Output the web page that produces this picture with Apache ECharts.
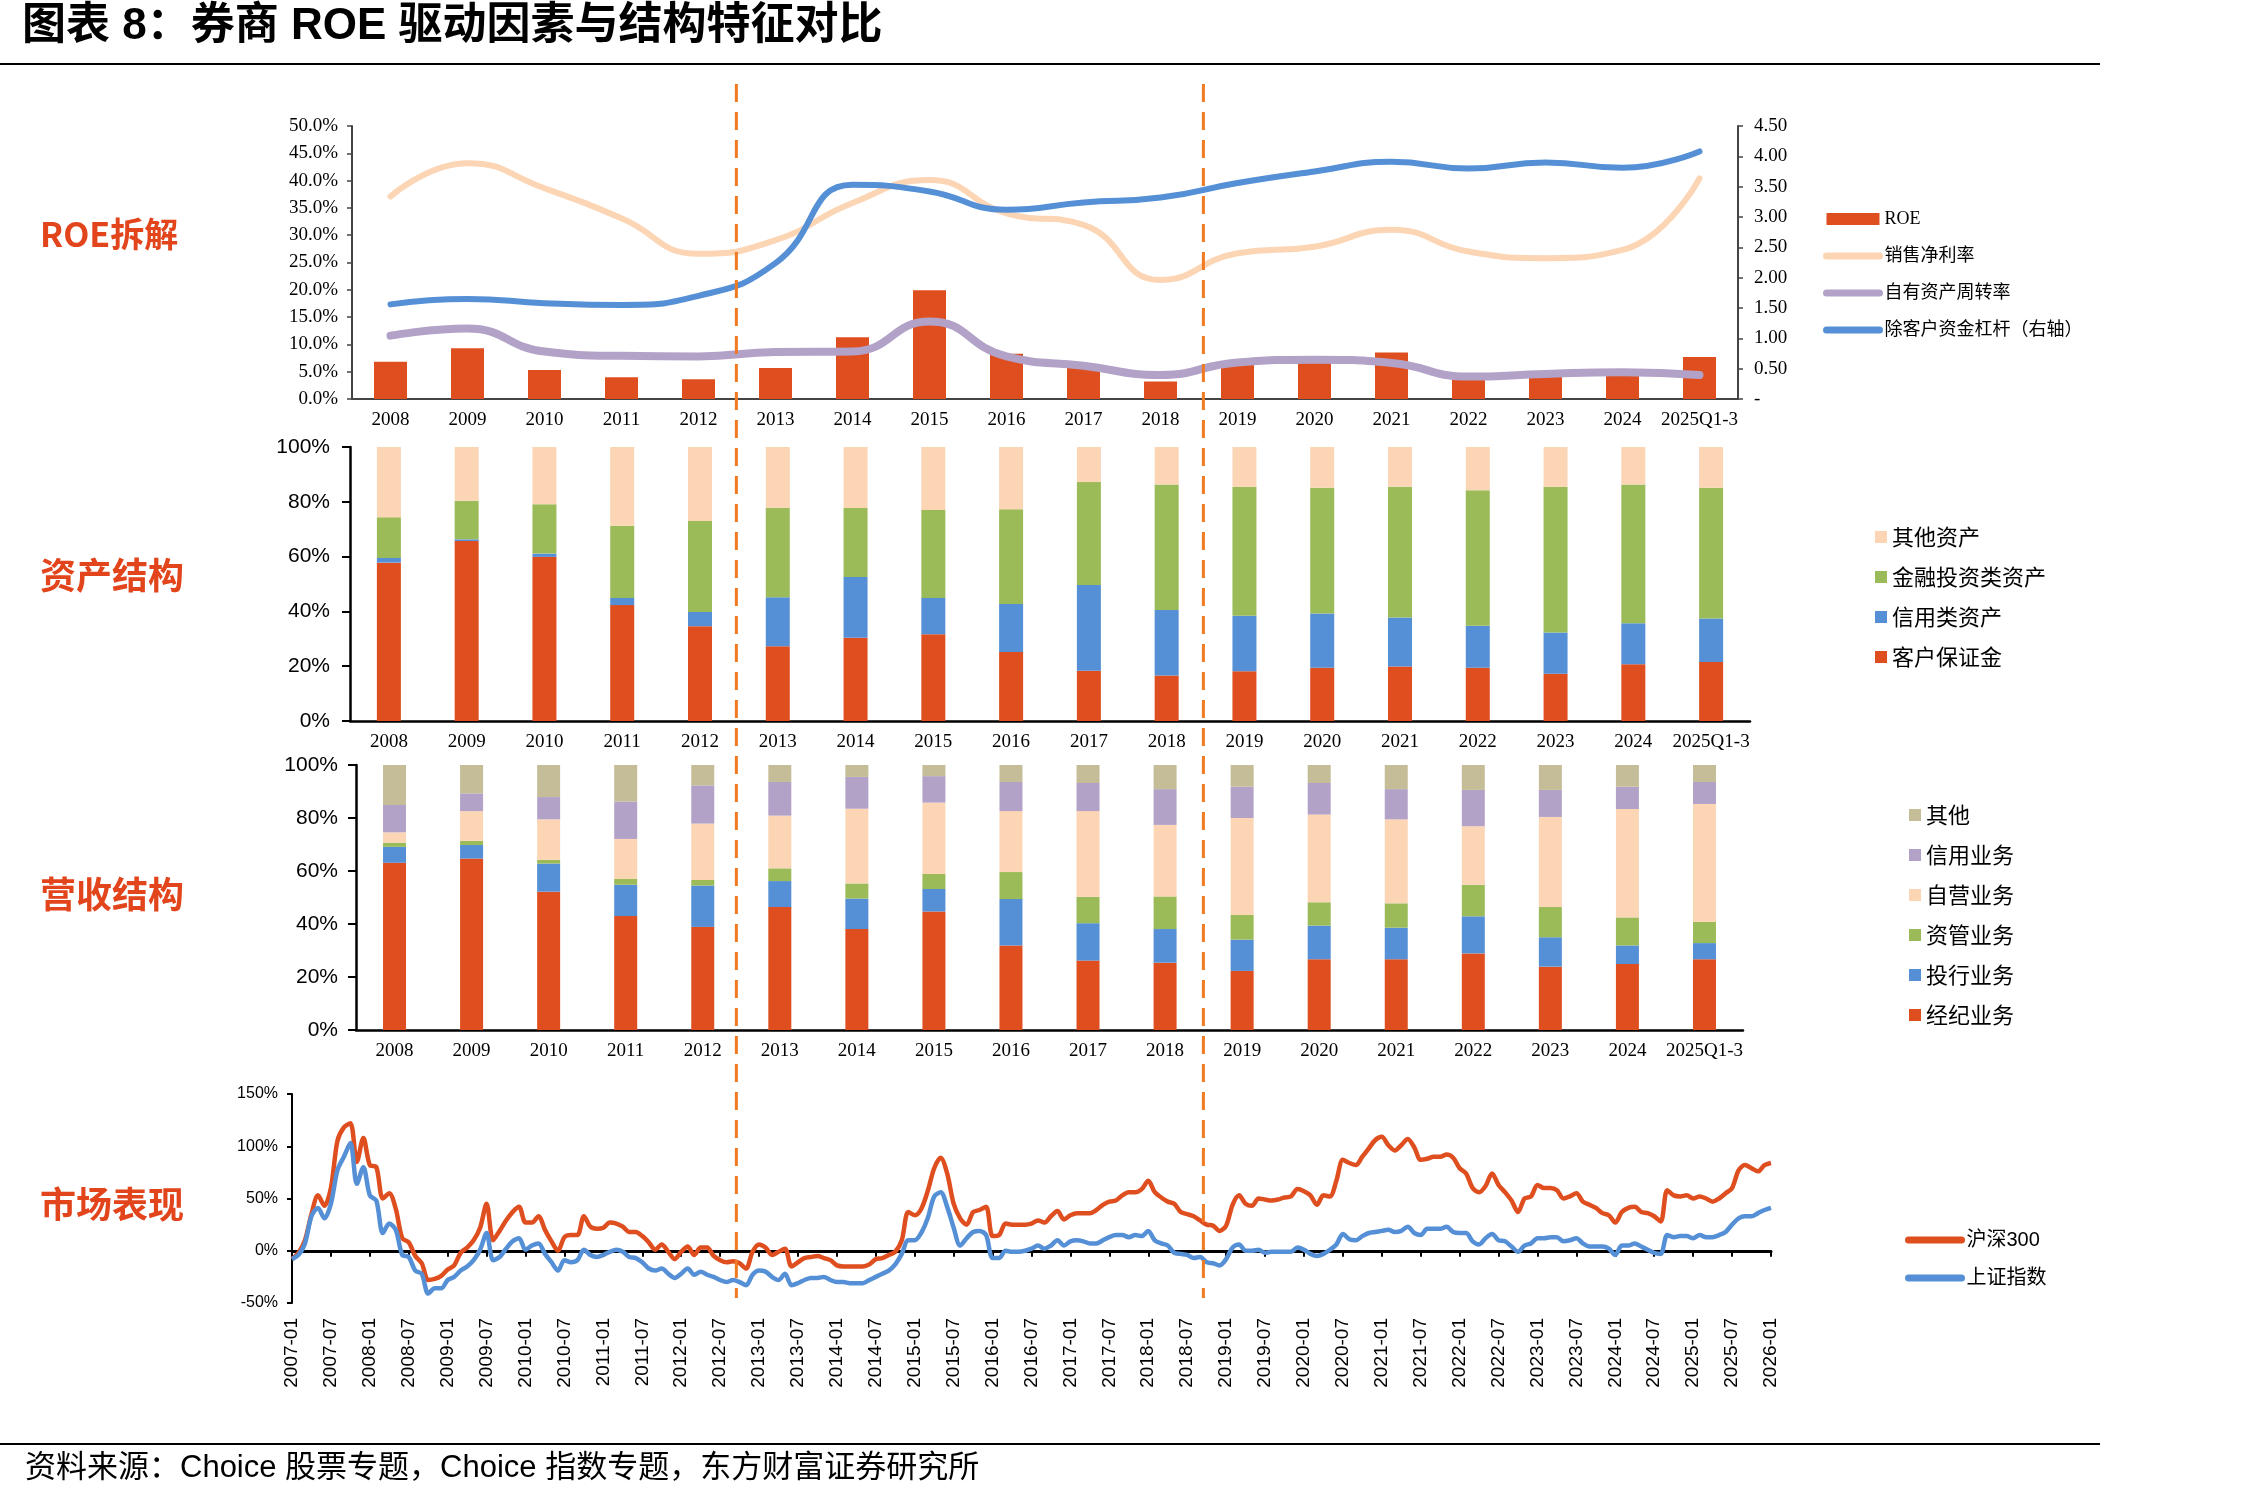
<!DOCTYPE html>
<html>
<head>
<meta charset="utf-8">
<script src="https://cdn.jsdelivr.net/npm/echarts@6/dist/echarts.min.js"></script>
<style>
  html, body { margin: 0; padding: 0; background: #fff; }
  #main { width: 2268px; height: 1499px; }
</style>
</head>
<body>
<div id="main"></div>
<script>
var years = ['2008','2009','2010','2011','2012','2013','2014','2015','2016','2017','2018','2019','2020','2021','2022','2023','2024','2025Q1-3'];

// ROE 拆解
var roe       = [6.8, 9.3, 5.3, 4.0, 3.6, 5.7, 11.3, 19.9, 8.3, 6.2, 3.2, 6.5, 7.0, 8.5, 3.9, 4.8, 5.0, 7.7];
var netMargin = [37.1, 43.2, 38.6, 33.1, 26.6, 29.1, 35.9, 40.1, 34.0, 31.9, 21.8, 26.7, 27.9, 31.0, 27.0, 25.8, 27.3, 40.4];
var turnover  = [11.6, 12.9, 8.7, 7.9, 7.8, 8.6, 8.7, 14.2, 7.8, 6.1, 4.4, 6.7, 7.2, 6.6, 4.1, 4.6, 4.9, 4.4];
var leverage  = [1.56, 1.65, 1.58, 1.55, 1.70, 2.24, 3.53, 3.42, 3.12, 3.24, 3.32, 3.56, 3.75, 3.91, 3.80, 3.90, 3.81, 4.08];

// 资产结构 (%)
var clientFunds  = [57.8, 65.7, 59.9, 42.3, 34.6, 27.3, 30.4, 31.7, 25.2, 18.3, 16.6, 18.2, 19.4, 19.9, 19.4, 17.2, 20.7, 21.5];
var creditAssets = [1.7, 0.6, 1.2, 2.6, 5.2, 17.9, 22.2, 13.2, 17.5, 31.3, 23.9, 20.2, 19.8, 17.9, 15.4, 15.1, 15.0, 15.9];
var investAssets = [14.9, 14.1, 18.0, 26.4, 33.2, 32.6, 25.1, 32.1, 34.6, 37.6, 45.8, 47.1, 45.9, 47.7, 49.4, 53.2, 50.6, 47.7];
var otherAssets  = [25.6, 19.6, 20.9, 28.7, 27.0, 22.2, 22.3, 23.0, 22.7, 12.8, 13.7, 14.5, 14.9, 14.5, 15.8, 14.5, 13.7, 14.9];

// 营收结构 (%)
var brokerage   = [63.1, 64.7, 52.2, 43.0, 38.9, 46.4, 38.1, 44.7, 31.9, 26.2, 25.4, 22.3, 26.7, 26.7, 28.9, 23.9, 24.9, 26.7];
var ibanking    = [6.0, 5.1, 10.6, 11.8, 15.6, 9.8, 11.5, 8.5, 17.5, 14.1, 12.7, 11.8, 12.7, 11.9, 14.0, 11.1, 7.0, 6.1];
var assetMgmt   = [1.6, 1.6, 1.4, 2.2, 2.1, 4.8, 5.7, 5.7, 10.2, 10.0, 12.3, 9.3, 8.8, 9.2, 11.9, 11.4, 10.6, 8.0];
var proprietary = [3.9, 11.2, 15.3, 15.1, 21.3, 19.9, 28.2, 26.9, 23.0, 32.3, 27.0, 36.6, 33.1, 31.7, 22.1, 34.0, 40.9, 44.5];
var creditBiz   = [10.3, 6.7, 8.4, 14.1, 14.4, 12.7, 12.0, 10.0, 11.0, 10.6, 13.5, 11.8, 11.9, 11.4, 13.7, 10.2, 8.4, 8.3];
var otherBiz    = [15.1, 10.7, 12.1, 13.8, 7.7, 6.4, 4.5, 4.2, 6.4, 6.8, 9.1, 8.2, 6.8, 9.1, 9.4, 9.4, 8.2, 6.4];

// 市场表现, monthly from 2007-01 to 2026-01 (%)
var hs300 = [
  -8, -2, 10, 35, 53, 43, 60, 105, 118, 122, 85, 108,
  82, 80, 50, 55, 40, 12, 8, -5, -12, -28, -27, -24,
  -18, -14, -2, 3, 10, 22, 45, 10, 19, 29, 37, 42,
  27, 27, 33, 20, 9, 0, 13, 15, 15, 33, 23, 21,
  22, 27, 26, 23, 18, 18, 14, 8, 1, 6, -1, -8,
  -1, 4, -4, 3, 3, -5, -9, -11, -10, -12, -17, -1,
  6, 3, -4, -1, 2, -15, -11, -7, -6, -5, -7, -9,
  -14, -15, -15, -15, -15, -13, -8, -7, -4, -1, 10, 37,
  34, 40, 57, 79, 89, 74, 45, 31, 25, 37, 39, 42,
  14, 15, 26, 25, 25, 25, 26, 29, 27, 33, 38, 30,
  34, 36, 36, 36, 39, 44, 47, 48, 53, 56, 56, 59,
  67, 56, 51, 47, 45, 37, 35, 33, 29, 25, 24, 19,
  24, 44, 53, 45, 43, 50, 49, 48, 49, 51, 52, 59,
  57, 53, 44, 53, 52, 67, 87, 84, 82, 90, 98, 106,
  109, 101, 96, 101, 107, 99, 87, 88, 90, 90, 92, 89,
  79, 74, 60, 56, 62, 74, 63, 56, 48, 37, 50, 52,
  63, 60, 60, 58, 50, 52, 55, 47, 44, 41, 36, 34,
  27, 37, 41, 42, 37, 36, 33, 28, 58, 53, 52, 53,
  50, 52, 50, 47, 50, 55, 60, 77, 82, 79, 76, 82,
  84
];
var sse = [
  -8, -4, 7, 33, 41, 31, 45, 77, 90, 103, 64, 80,
  53, 48, 17, 26, 20, -4, -6, -19, -22, -41, -36, -36,
  -28, -25, -19, -15, -9, 1, 17, -9, -6, 2, 9, 12,
  1, 5, 7, -3, -11, -19, -9, -11, -9, 1, -4, -6,
  -4, -1, 1, -1, -6, -7, -11, -17, -19, -17, -22, -26,
  -22, -17, -23, -20, -23, -25, -28, -30, -28, -30, -33, -23,
  -19, -20, -25, -28, -22, -33, -31, -28, -26, -26, -25, -28,
  -30, -30, -31, -31, -31, -28, -25, -22, -19, -13, -3, 10,
  10, 17, 31, 52, 56, 42, 22, 5, 12, 18, 19, 15,
  -7, -7, 0, -1, -1, 0, 2, 5, 2, 5, 10, 5,
  9, 10, 9, 7, 7, 10, 13, 15, 15, 13, 15, 14,
  19, 10, 7, 5, -2, -3, -4, -7, -6, -11, -12, -14,
  -8, 3, 6, 0, 0, 1, -2, -1, -1, -1, -1, 3,
  1, -3, -5, -3, 1, 6, 16, 11, 10, 14, 17, 18,
  19, 20, 18, 19, 23, 17, 15, 21, 21, 21, 23, 18,
  17, 17, 9, 6, 12, 16, 10, 9, 4, -1, 5, 7,
  12, 12, 13, 13, 9, 10, 12, 7, 4, 4, 4, 2,
  -4, 5, 5, 7, 4, 1, -2, -3, 15, 13, 14, 14,
  12, 15, 13, 13, 15, 18, 25, 31, 33, 33, 36, 39,
  41
];

var months = [];
for (var y = 2007; y <= 2026; y++) {
    for (var m = 1; m <= 12; m++) {
        months.push(y + '-' + (m < 10 ? '0' + m : m));
        if (y == 2026) break;
    }
}

var RED = '#DF4E1F', BLUE = '#5590D6', GREEN = '#9BBB59', PEACH = '#FCD5B5', LAV = '#B3A2C7', TAN = '#C4BD97';
var SERIF = '"Liberation Serif", "Noto Sans CJK SC"';
var SANS = '"Liberation Sans", "Noto Sans CJK SC"';
var CJK = '"Noto Sans CJK SC"';

var chart = echarts.init(document.getElementById('main'));

function catAxis(grid, lineW, lineColor) {
    return {
        type: 'category', gridIndex: grid, data: years,
        axisLine: {lineStyle: {color: lineColor, width: lineW}},
        axisTick: {length: 6, lineStyle: {color: lineColor, width: 1.5}},
        axisLabel: {interval: 0, margin: 12, color: '#000', fontFamily: SERIF, fontSize: 19}
    };
}

function pctAxis(grid, margin) {
    return {
        type: 'value', gridIndex: grid, min: 0, max: 100, interval: 20,
        splitLine: {show: false},
        axisLine: {show: true, lineStyle: {color: '#000', width: 2.5}},
        axisTick: {show: true, length: 8, lineStyle: {color: '#000', width: 2}},
        axisLabel: {margin: margin, color: '#000', fontFamily: SANS, fontSize: 21, formatter: '{value}%'}
    };
}

function stackBar(name, data, color, xi, yi, stack, w) {
    return {
        name: name, type: 'bar', stack: stack, data: data, xAxisIndex: xi, yAxisIndex: yi,
        barWidth: w, itemStyle: {color: color}
    };
}

function smoothLine(name, data, color, width, yi) {
    return {
        name: name, type: 'line', data: data, xAxisIndex: 0, yAxisIndex: yi,
        smooth: true, symbol: 'none', lineStyle: {color: color, width: width, cap: 'round'},
        itemStyle: {color: color}
    };
}

// line legend items: hide the dot ECharts puts in the middle
function lineItem(name) {
    return {name: name, itemStyle: {opacity: 0}};
}

var option = {
    animation: false,
    backgroundColor: '#fff',
    grid: [
        {left: 352, top: 126, width: 1386, height: 273},
        {left: 350, top: 447, width: 1400, height: 274},
        {left: 356, top: 765, width: 1387, height: 265},
        {left: 292, top: 1094, width: 1479, height: 209}
    ],
    xAxis: [
        catAxis(0, 2, '#444'),
        catAxis(1, 2.5, '#000'),
        catAxis(2, 2.5, '#000'),
        {
            type: 'category', gridIndex: 3, data: months, boundaryGap: false,
            axisLine: {show: false, onZero: false}, axisTick: {show: false},
            axisLabel: {
                rotate: 90, margin: 15, color: '#000', fontFamily: SANS, fontSize: 19,
                interval: function (i) { return i % 6 === 0; }
            }
        },
        {
            type: 'category', gridIndex: 3, data: months, boundaryGap: false, position: 'bottom',
            axisLine: {onZero: true, lineStyle: {color: '#000', width: 3}},
            axisTick: {length: 6, lineStyle: {color: '#000', width: 2}, interval: function (i) { return i % 6 === 0; }},
            axisLabel: {show: false}
        }
    ],
    yAxis: [
        {
            type: 'value', gridIndex: 0, min: 0, max: 50, interval: 5, splitLine: {show: false},
            axisLine: {show: true, lineStyle: {color: '#444', width: 2}},
            axisTick: {show: true, length: 5, lineStyle: {color: '#444', width: 1.5}},
            axisLabel: {margin: 14, color: '#000', fontFamily: SERIF, fontSize: 19,
                formatter: function (v) { return v.toFixed(1) + '%'; }}
        },
        {
            type: 'value', gridIndex: 0, position: 'right', min: 0, max: 4.5, interval: 0.5, splitLine: {show: false},
            axisLine: {show: true, lineStyle: {color: '#444', width: 2}},
            axisTick: {show: true, length: 5, lineStyle: {color: '#444', width: 1.5}},
            axisLabel: {margin: 16, color: '#000', fontFamily: SERIF, fontSize: 19,
                formatter: function (v) { return v === 0 ? '-' : v.toFixed(2); }}
        },
        pctAxis(1, 20),
        pctAxis(2, 18),
        {
            type: 'value', gridIndex: 3, min: -50, max: 150, interval: 50, splitLine: {show: false},
            axisLine: {show: true, lineStyle: {color: '#000', width: 2}},
            axisTick: {show: true, length: 5, lineStyle: {color: '#000', width: 2}},
            axisLabel: {margin: 14, color: '#000', fontFamily: SANS, fontSize: 16, formatter: '{value}%'}
        }
    ],
    legend: [
        {
            orient: 'vertical', left: 1818, top: 205, itemGap: 19, itemWidth: 53, itemHeight: 12,
            selectedMode: false, lineStyle: {width: 7, cap: 'round'},
            textStyle: {color: '#000', fontFamily: SERIF, fontSize: 18},
            data: [{name: 'ROE', icon: 'rect'}, lineItem('销售净利率'), lineItem('自有资产周转率'), lineItem('除客户资金杠杆（右轴）')]
        },
        {
            orient: 'vertical', left: 1870, top: 521, itemGap: 18, itemWidth: 12, itemHeight: 12,
            selectedMode: false, icon: 'rect',
            textStyle: {color: '#000', fontFamily: CJK, fontSize: 22},
            data: ['其他资产', '金融投资类资产', '信用类资产', '客户保证金']
        },
        {
            orient: 'vertical', left: 1904, top: 799, itemGap: 18, itemWidth: 12, itemHeight: 12,
            selectedMode: false, icon: 'rect',
            textStyle: {color: '#000', fontFamily: CJK, fontSize: 22},
            data: ['其他', '信用业务', '自营业务', '资管业务', '投行业务', '经纪业务']
        },
        {
            orient: 'vertical', left: 1900, top: 1225, itemGap: 18, itemWidth: 53, itemHeight: 12,
            selectedMode: false, lineStyle: {width: 7, cap: 'round'},
            textStyle: {color: '#000', fontFamily: SANS, fontSize: 20},
            data: [lineItem('沪深300'), lineItem('上证指数')]
        }
    ],
    series: [
        {name: 'ROE', type: 'bar', data: roe, xAxisIndex: 0, yAxisIndex: 0, barWidth: 33, itemStyle: {color: RED}},
        smoothLine('销售净利率', netMargin, PEACH, 6, 0),
        smoothLine('自有资产周转率', turnover, LAV, 8, 0),
        smoothLine('除客户资金杠杆（右轴）', leverage, BLUE, 6, 1),

        stackBar('客户保证金', clientFunds, RED, 1, 2, 'asset', 24),
        stackBar('信用类资产', creditAssets, BLUE, 1, 2, 'asset', 24),
        stackBar('金融投资类资产', investAssets, GREEN, 1, 2, 'asset', 24),
        stackBar('其他资产', otherAssets, PEACH, 1, 2, 'asset', 24),

        stackBar('经纪业务', brokerage, RED, 2, 3, 'rev', 23),
        stackBar('投行业务', ibanking, BLUE, 2, 3, 'rev', 23),
        stackBar('资管业务', assetMgmt, GREEN, 2, 3, 'rev', 23),
        stackBar('自营业务', proprietary, PEACH, 2, 3, 'rev', 23),
        stackBar('信用业务', creditBiz, LAV, 2, 3, 'rev', 23),
        stackBar('其他', otherBiz, TAN, 2, 3, 'rev', 23),

        {name: '沪深300', type: 'line', data: hs300, xAxisIndex: 3, yAxisIndex: 4, smooth: 0.3, symbol: 'none',
            lineStyle: {color: RED, width: 4.5}, itemStyle: {color: RED}},
        {name: '上证指数', type: 'line', data: sse, xAxisIndex: 3, yAxisIndex: 4, smooth: 0.3, symbol: 'none',
            lineStyle: {color: BLUE, width: 4.5}, itemStyle: {color: BLUE}}
    ]
};

chart.setOption(option);

function sideLabel(text, y, size) {
    return {type: 'text', x: 40, y: y, z: 10,
        style: {text: text, fill: '#E2451C', font: 'bold ' + size + 'px ' + CJK, verticalAlign: 'middle'}};
}

// separators sit between 2012-09/10 and 2018-09/10 on the market axis
function sepX(a, b) {
    return (chart.convertToPixel({xAxisIndex: 3}, a) + chart.convertToPixel({xAxisIndex: 3}, b)) / 2;
}
var seps = [sepX('2012-09', '2012-10'), sepX('2018-09', '2018-10')];

var elements = [
    {type: 'text', x: 22, y: 27, style: {text: '图表 8：券商 ROE 驱动因素与结构特征对比', fill: '#000',
        font: 'bold 44px ' + SANS, verticalAlign: 'middle'}},
    {type: 'line', shape: {x1: 0, y1: 64, x2: 2100, y2: 64}, style: {stroke: '#000', lineWidth: 2}},
    {type: 'line', shape: {x1: 0, y1: 1444, x2: 2100, y2: 1444}, style: {stroke: '#000', lineWidth: 2}},
    {type: 'text', x: 25, y: 1468, style: {text: '资料来源：Choice 股票专题，Choice 指数专题，东方财富证券研究所', fill: '#000',
        font: '31px ' + SANS, verticalAlign: 'middle'}},
    sideLabel('ROE拆解', 234, 34),
    sideLabel('资产结构', 575, 36),
    sideLabel('营收结构', 894, 36),
    sideLabel('市场表现', 1204, 36)
];
seps.forEach(function (x) {
    elements.push({type: 'line', z: 100, shape: {x1: x, y1: 84, x2: x, y2: 1298},
        style: {stroke: '#F07A22', lineWidth: 3, lineDash: [18, 10]}});
});

chart.setOption({graphic: elements});
</script>
</body>
</html>
